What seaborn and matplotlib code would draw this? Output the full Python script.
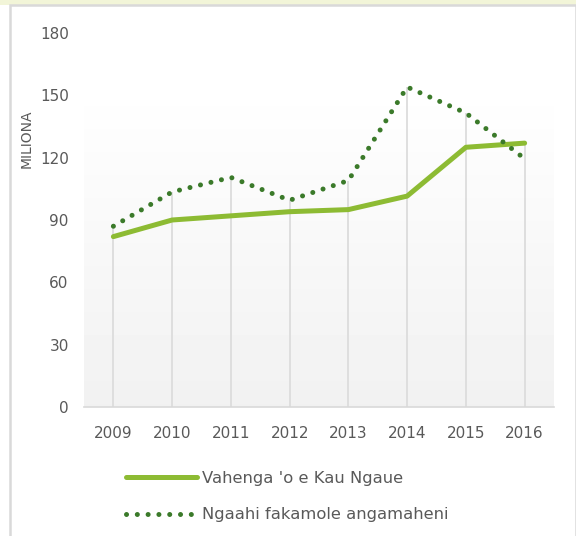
import numpy as np
import pandas as pd
import matplotlib
matplotlib.use("Agg")
import matplotlib.pyplot as plt
import seaborn as sns
from matplotlib.patches import Rectangle

years = [2009, 2010, 2011, 2012, 2013, 2014, 2015, 2016]
vahenga = [82, 90, 92, 94, 95, 101.5, 125, 127]
fakamole = [87, 103.5, 110.5, 99.5, 109, 154, 141.5, 119.5]
y_ticks = [0, 30, 60, 90, 120, 150, 180]
label_solid = "Vahenga 'o e Kau Ngaue"
label_dotted = "Ngaahi fakamole angamaheni"

df = pd.DataFrame({"Taʻu": years, "Vahenga": vahenga, "Fakamole": fakamole})

sns.set_theme(style="white")
plt.rcParams["font.family"] = ["DejaVu Sans"]
text_col = "#595959"

fig = plt.figure(figsize=(5.76, 5.36), dpi=100)
fig.patch.set_facecolor("white")

# outer frame: pale strip on top, grey panel border
fig.patches.append(Rectangle((0, 1 - 5 / 536), 1, 5 / 536, transform=fig.transFigure,
                             facecolor="#f2f5d8", edgecolor="none", zorder=0))
fig.patches.append(Rectangle((9.5 / 576, -0.05), 566 / 576, 1 - 5.5 / 536 + 0.05,
                             transform=fig.transFigure, facecolor="none",
                             edgecolor="#d9d9d9", linewidth=1.8, zorder=1))

ax = fig.add_axes([84 / 576, 129 / 536, 470 / 576, 374 / 536])
ax.set_facecolor("none")

# soft gradient behind the plot
grad = np.linspace(1.0, 0.945, 100).reshape(-1, 1)
ax.imshow(grad, cmap="gray", vmin=0, vmax=1, aspect="auto",
          extent=[2008.5, 2016.5, 0, 157], origin="upper", zorder=0)

# drop lines up to the higher of the two series
ax.vlines(df["Taʻu"], 0, df[["Vahenga", "Fakamole"]].max(axis=1),
          color="#dcdcdc", linewidth=1.3, zorder=1)

sns.lineplot(data=df, x="Taʻu", y="Vahenga", ax=ax, color="#8dbb33",
             linewidth=3.6, label=label_solid, zorder=3)
sns.lineplot(data=df, x="Taʻu", y="Fakamole", ax=ax, color="#3b7a2a",
             linewidth=3.6, dashes=(0.01, 2.15), dash_capstyle="round",
             label=label_dotted, zorder=4)

ax.set_xlim(2008.5, 2016.5)
ax.set_ylim(0, 180)
ax.set_xticks(years)
ax.set_yticks(y_ticks)
ax.tick_params(axis="both", length=0, labelsize=11, colors=text_col)
ax.tick_params(axis="x", pad=14)
ax.tick_params(axis="y", pad=11)
ax.set_xlabel("")
ax.set_ylabel("")
for s in ["top", "right", "left"]:
    ax.spines[s].set_visible(False)
ax.spines["bottom"].set_color("#d9d9d9")
ax.spines["bottom"].set_linewidth(1.2)

fig.text(27 / 576, 1 - 139 / 536, "MILIONA", rotation=90, ha="center", va="center",
         fontsize=10, color=text_col)

leg = ax.legend(loc="upper left", bbox_to_anchor=(126 / 576, 1 - 471 / 536),
                bbox_transform=fig.transFigure, frameon=False, fontsize=11.8,
                handlelength=4.35, handletextpad=0.3, labelspacing=1.3,
                borderpad=0, borderaxespad=0)
for t in leg.get_texts():
    t.set_color(text_col)

fig.savefig("out.png", dpi=100)
